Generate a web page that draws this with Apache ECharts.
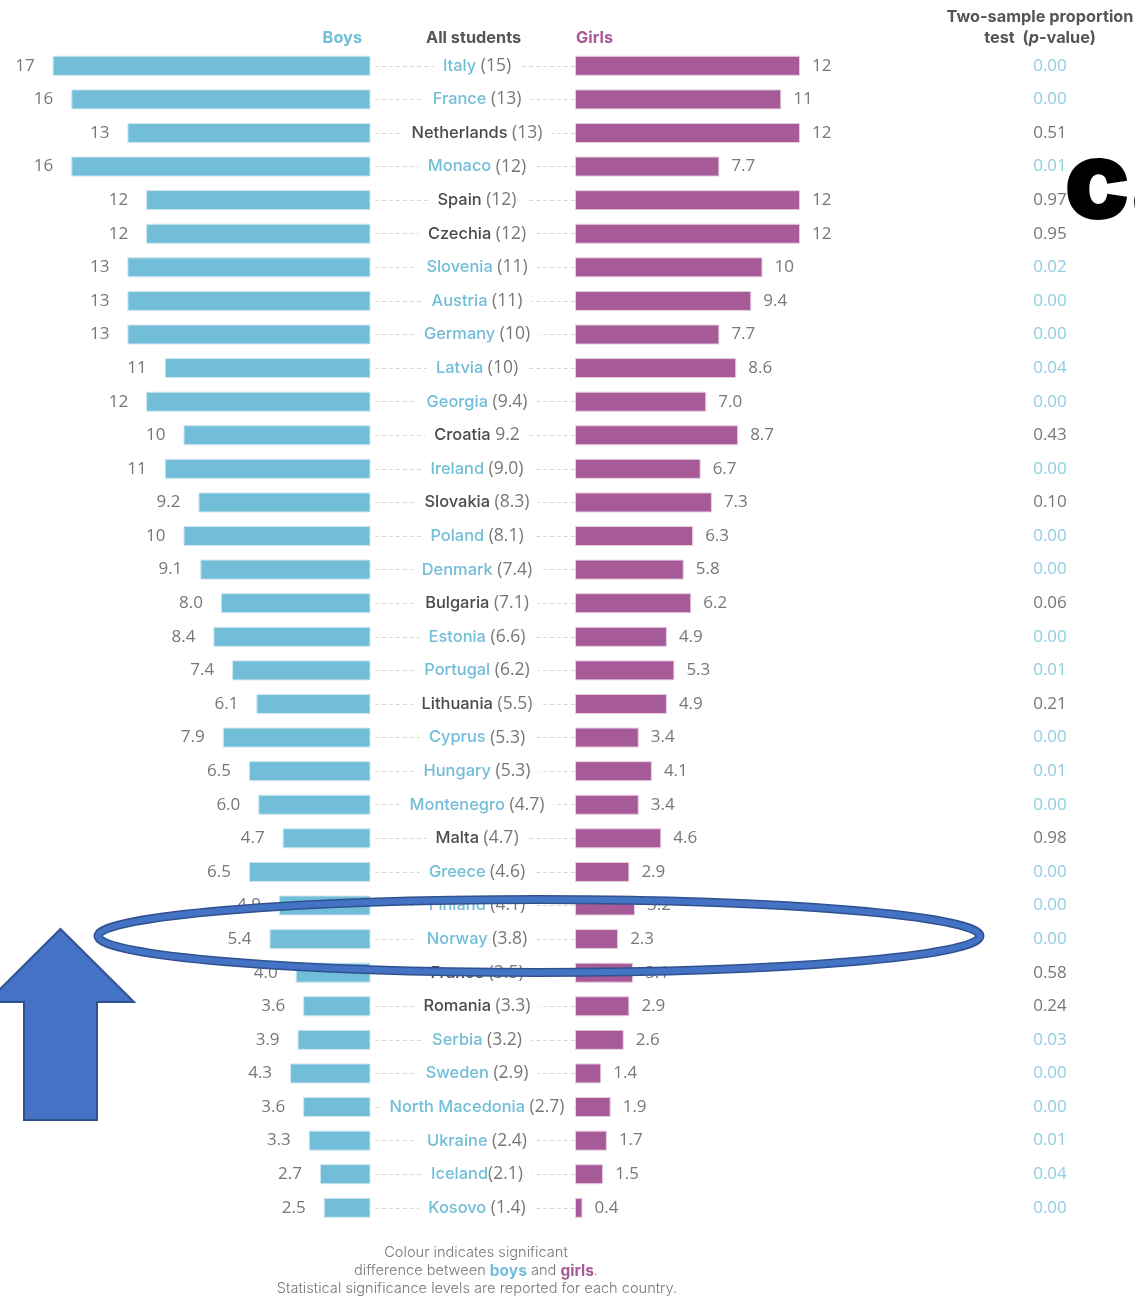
<!DOCTYPE html>
<html><head><meta charset="utf-8">
<style>html,body{margin:0;padding:0;background:#fff}#c{width:1135px;height:1296px}</style>
<script src="https://cdn.jsdelivr.net/npm/echarts@6/dist/echarts.min.js"></script>
</head><body><div id="c"></div>
<script>
const rowLabels = ["Italy (15)","France (13)","Netherlands (13)","Monaco (12)","Spain (12)","Czechia (12)","Slovenia (11)","Austria (11)","Germany (10)","Latvia (10)","Georgia (9.4)","Croatia 9.2","Ireland (9.0)","Slovakia (8.3)","Poland (8.1)","Denmark (7.4)","Bulgaria (7.1)","Estonia (6.6)","Portugal (6.2)","Lithuania (5.5)","Cyprus (5.3)","Hungary (5.3)","Montenegro (4.7)","Malta (4.7)","Greece (4.6)","Finland (4.1)","Norway (3.8)","France (3.5)","Romania (3.3)","Serbia (3.2)","Sweden (2.9)","North Macedonia (2.7)","Ukraine (2.4)","Iceland(2.1)","Kosovo (1.4)"];
const boys = [17,16,13,16,12,12,13,13,13,11,12,10,11,9.2,10,9.1,8.0,8.4,7.4,6.1,7.9,6.5,6.0,4.7,6.5,4.9,5.4,4.0,3.6,3.9,4.3,3.6,3.3,2.7,2.5];
const girls = [12,11,12,7.7,12,12,10,9.4,7.7,8.6,7.0,8.7,6.7,7.3,6.3,5.8,6.2,4.9,5.3,4.9,3.4,4.1,3.4,4.6,2.9,3.2,2.3,3.1,2.9,2.6,1.4,1.9,1.7,1.5,0.4];
const pValues = ["0.00","0.00","0.51","0.01","0.97","0.95","0.02","0.00","0.00","0.04","0.00","0.43","0.00","0.10","0.00","0.00","0.06","0.00","0.01","0.21","0.00","0.01","0.00","0.98","0.00","0.00","0.00","0.58","0.24","0.03","0.00","0.00","0.01","0.04","0.00"];

const BLUE='#72bdd7', PURPLE='#a65a97', DARK='#555555', GREY='#777777', SIGBLUE='#8fcde3';
const FONT='Inter, sans-serif', NUMFONT='"Open Sans", sans-serif';
const fmt = v => v>=10 ? String(v) : v.toFixed(1);
const isSig = i => parseFloat(pValues[i]) < 0.05;
const cats = rowLabels.map((_,i)=>String(i));
const TOP=49, H=1175.6, MAXV=19, W=355.3, WR=356.3;

const barSeries = (name,data,color,xi,pos,dist)=>({
  name,type:'bar',xAxisIndex:xi,yAxisIndex:xi,data,barWidth:20,silent:true,
  itemStyle:{color,borderColor:color==BLUE?'#cbe6f0':'#e6cfe2',borderWidth:1},
  label:{show:true,position:pos,distance:dist,color:GREY,fontFamily:NUMFONT,fontSize:17,fontWeight:400,formatter:p=>fmt(p.value)}
});
const head=(text,pos,top,color,extra)=>Object.assign({text,top,padding:0},pos,{textStyle:{color,fontFamily:FONT,fontSize:16.3,fontWeight:700}},extra||{});

const option = {
  backgroundColor:'#fff',animation:false,
  grid:[
    {left:370.5-W,top:TOP,width:W,height:H},
    {left:575,top:TOP,width:WR,height:H},
    {left:1050,top:TOP,width:1,height:H}
  ],
  xAxis:[
    {gridIndex:0,type:'value',inverse:true,min:0,max:MAXV,show:false},
    {gridIndex:1,type:'value',min:0,max:MAXV,show:false},
    {gridIndex:2,type:'value',min:0,max:1,show:false}
  ],
  yAxis:[
    {gridIndex:0,type:'category',inverse:true,data:cats,show:false},
    {gridIndex:1,type:'category',inverse:true,data:cats,position:'left',
      axisLine:{show:false},
      axisTick:{show:true,alignWithLabel:true,inside:false,length:200,lineStyle:{color:'#d8d8d8',width:1,type:[4,3]}},
      axisLabel:{show:true,interval:0,align:'center',margin:98,backgroundColor:'#fff',padding:[2,9],
        formatter:(v,i)=>{
          const m=rowLabels[i].match(/^(.*?)( ?\(?[\d.]+\)?)$/);
          const style=isSig(i)?'s':'n';
          return `{${style}|${m[1]}}{v|${m[2]}}`;
        },
        rich:{
          s:{color:BLUE,fontFamily:FONT,fontSize:16.4,fontWeight:500},
          n:{color:'#4a4a4a',fontFamily:FONT,fontSize:16.4,fontWeight:500},
          v:{color:GREY,fontFamily:NUMFONT,fontSize:17.5,fontWeight:400}
        }}},
    {gridIndex:2,type:'category',inverse:true,data:pValues,position:'left',
      axisLine:{show:false},axisTick:{show:false},
      axisLabel:{show:true,interval:0,align:'center',margin:0,fontFamily:NUMFONT,fontSize:17,fontWeight:400,
        color:(v,i)=>isSig(i)?SIGBLUE:GREY}}
  ],
  series:[
    barSeries('Boys',boys,BLUE,0,'left',18),
    barSeries('Girls',girls,PURPLE,1,'right',12),
    {type:'bar',xAxisIndex:2,yAxisIndex:2,data:[],silent:true}
  ],
  title:[
    head('Boys',{right:1135-362},30,BLUE),
    head('All students',{left:426},30,DARK),
    head('Girls',{left:576},30,PURPLE),
    head('Two-sample proportion',{left:1040},9,DARK,{textAlign:'center'}),
    {text:'{b|test  (}{i|p}{b|-value)}',left:1040,top:30,padding:0,textAlign:'center',textStyle:{rich:{
      b:{color:DARK,fontFamily:FONT,fontSize:16.3,fontWeight:700},
      i:{color:DARK,fontFamily:FONT,fontSize:16.3,fontWeight:700,fontStyle:'italic'}}}},
    {text:'{t|Colour indicates significant}',left:476,top:1245,padding:0,textAlign:'center',textStyle:{rich:{t:{color:GREY,fontFamily:FONT,fontSize:14.6,fontWeight:300}}}},
    {text:'{t|difference between }{b|boys}{t| and }{g|girls}{t|.}',left:476,top:1263,padding:0,textAlign:'center',textStyle:{rich:{
      t:{color:GREY,fontFamily:FONT,fontSize:14.6,fontWeight:300},
      b:{color:BLUE,fontFamily:FONT,fontSize:15.5,fontWeight:700},
      g:{color:PURPLE,fontFamily:FONT,fontSize:15.5,fontWeight:700}}}},
    {text:'{t|Statistical significance levels are reported for each country.}',left:477,top:1281,padding:0,textAlign:'center',textStyle:{rich:{t:{color:GREY,fontFamily:FONT,fontSize:14.6,fontWeight:300}}}}
  ],
  graphic:{elements:[
    {type:'ellipse',z:100,shape:{cx:539,cy:936,rx:441,ry:36.5},style:{fill:null,stroke:'#2f528f',lineWidth:9}},
    {type:'ellipse',z:101,shape:{cx:539,cy:936,rx:441,ry:36.5},style:{fill:null,stroke:'#4472c4',lineWidth:6}},
    {type:'polygon',z:100,shape:{points:[[60.5,929],[134,1002],[97,1002],[97,1120],[24,1120],[24,1002],[-13,1002]]},
      style:{fill:'#4472c4',stroke:'#2f528f',lineWidth:2}},
    {type:'text',z:100,left:1064,top:131,style:{text:'ca',fill:'#000',font:'900 110px Inter, sans-serif'}}
  ]}
};
echarts.init(document.getElementById('c'),null,{renderer:'canvas'}).setOption(option);
</script></body></html>
